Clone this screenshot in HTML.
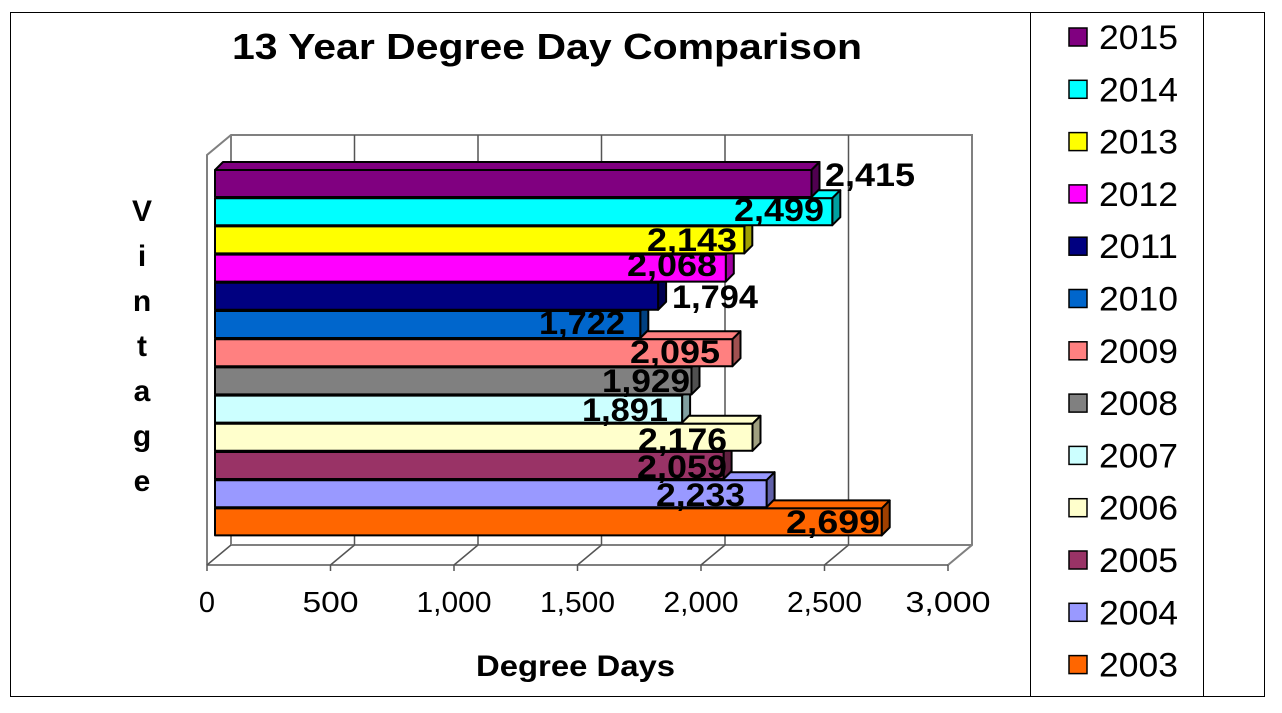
<!DOCTYPE html>
<html><head><meta charset="utf-8"><style>
body{margin:0;background:#fff}
svg{display:block;font-family:"Liberation Sans",Arial,sans-serif}
</style></head><body>
<svg width="1282" height="713" viewBox="0 0 1282 713" xmlns="http://www.w3.org/2000/svg">
<rect x="0" y="0" width="1282" height="713" fill="#fff"/>
<rect x="10.5" y="12.5" width="1254" height="684" fill="none" stroke="#000" stroke-width="1"/>
<rect x="1030.5" y="12.5" width="173" height="684" fill="none" stroke="#000" stroke-width="1"/>
<text x="232" y="59" font-size="36" font-weight="bold" textLength="630" lengthAdjust="spacingAndGlyphs">13 Year Degree Day Comparison</text>
<g font-size="30" font-weight="bold" text-anchor="middle">
<text x="142" y="221">V</text><text x="142" y="266">i</text><text x="142" y="311">n</text><text x="142" y="356">t</text><text x="142" y="401">a</text><text x="142" y="446">g</text><text x="142" y="491">e</text>
</g>
<g stroke="#808080" stroke-width="2" fill="none">
<polyline points="207,565 207,155 231,135 972,135 972,545 948,565"/>
<line x1="231" y1="135" x2="231" y2="545"/>
<line x1="231" y1="545" x2="972" y2="545"/>
</g>
<g stroke="#555" stroke-width="1.5">
<line x1="354.5" y1="135" x2="354.5" y2="545"/><line x1="478" y1="135" x2="478" y2="545"/><line x1="601.5" y1="135" x2="601.5" y2="545"/><line x1="725" y1="135" x2="725" y2="545"/><line x1="848.5" y1="135" x2="848.5" y2="545"/>
<line x1="207" y1="565" x2="948" y2="565"/>
<line x1="207" y1="565" x2="231" y2="545"/><line x1="330.5" y1="565" x2="354.5" y2="545"/><line x1="454" y1="565" x2="478" y2="545"/><line x1="577.5" y1="565" x2="601.5" y2="545"/><line x1="701" y1="565" x2="725" y2="545"/><line x1="824.5" y1="565" x2="848.5" y2="545"/>
<line x1="207" y1="565" x2="207" y2="571"/><line x1="330.5" y1="565" x2="330.5" y2="571"/><line x1="454" y1="565" x2="454" y2="571"/><line x1="577.5" y1="565" x2="577.5" y2="571"/><line x1="701" y1="565" x2="701" y2="571"/><line x1="824.5" y1="565" x2="824.5" y2="571"/><line x1="948" y1="565" x2="948" y2="571"/>
</g>
<g stroke="#000" stroke-width="2" stroke-linejoin="round">
<g fill="#FF6600"><polygon points="215,508.4 223,500.4 889.7,500.4 881.7,508.4"/><polygon points="881.7,508.4 889.7,500.4 889.7,527.4 881.7,535.4" fill="#a04000"/><rect x="215" y="508.4" width="666.7" height="27"/></g>
<g fill="#9999FF"><polygon points="215,480.2 223,472.2 774.6,472.2 766.6,480.2"/><polygon points="766.6,480.2 774.6,472.2 774.6,499.2 766.6,507.2" fill="#6060a8"/><rect x="215" y="480.2" width="551.6" height="27"/></g>
<g fill="#993366"><polygon points="215,452 223,444 731.6,444 723.6,452"/><polygon points="723.6,452 731.6,444 731.6,471 723.6,479" fill="#602040"/><rect x="215" y="452" width="508.6" height="27"/></g>
<g fill="#FFFFCC"><polygon points="215,423.8 223,415.8 760.5,415.8 752.5,423.8"/><polygon points="752.5,423.8 760.5,415.8 760.5,442.8 752.5,450.8" fill="#a0a080"/><rect x="215" y="423.8" width="537.5" height="27"/></g>
<g fill="#CCFFFF"><polygon points="215,395.6 223,387.6 690.1,387.6 682.1,395.6"/><polygon points="682.1,395.6 690.1,387.6 690.1,414.6 682.1,422.6" fill="#80a0a0"/><rect x="215" y="395.6" width="467.1" height="27"/></g>
<g fill="#808080"><polygon points="215,367.4 223,359.4 699.5,359.4 691.5,367.4"/><polygon points="691.5,367.4 699.5,359.4 699.5,386.4 691.5,394.4" fill="#505050"/><rect x="215" y="367.4" width="476.5" height="27"/></g>
<g fill="#FF8080"><polygon points="215,339.2 223,331.2 740.5,331.2 732.5,339.2"/><polygon points="732.5,339.2 740.5,331.2 740.5,358.2 732.5,366.2" fill="#a05050"/><rect x="215" y="339.2" width="517.5" height="27"/></g>
<g fill="#0066CC"><polygon points="215,311 223,303 648.3,303 640.3,311"/><polygon points="640.3,311 648.3,303 648.3,330 640.3,338" fill="#004080"/><rect x="215" y="311" width="425.3" height="27"/></g>
<g fill="#000080"><polygon points="215,282.8 223,274.8 666.1,274.8 658.1,282.8"/><polygon points="658.1,282.8 666.1,274.8 666.1,301.8 658.1,309.8" fill="#000050"/><rect x="215" y="282.8" width="443.1" height="27"/></g>
<g fill="#FF00FF"><polygon points="215,254.6 223,246.6 733.8,246.6 725.8,254.6"/><polygon points="725.8,254.6 733.8,246.6 733.8,273.6 725.8,281.6" fill="#a000a0"/><rect x="215" y="254.6" width="510.8" height="27"/></g>
<g fill="#FFFF00"><polygon points="215,226.4 223,218.4 752.3,218.4 744.3,226.4"/><polygon points="744.3,226.4 752.3,218.4 752.3,245.4 744.3,253.4" fill="#a0a000"/><rect x="215" y="226.4" width="529.3" height="27"/></g>
<g fill="#00FFFF"><polygon points="215,198.2 223,190.2 840.3,190.2 832.3,198.2"/><polygon points="832.3,198.2 840.3,190.2 840.3,217.2 832.3,225.2" fill="#00a0a0"/><rect x="215" y="198.2" width="617.3" height="27"/></g>
<g fill="#800080"><polygon points="215,170 223,162 819.5,162 811.5,170"/><polygon points="811.5,170 819.5,162 819.5,189 811.5,197" fill="#500050"/><rect x="215" y="170" width="596.5" height="27"/></g>
</g>
<g font-size="32" font-weight="bold" fill="#000">
<text x="825" y="186" textLength="90" lengthAdjust="spacingAndGlyphs">2,415</text>
<text x="734" y="221" textLength="90" lengthAdjust="spacingAndGlyphs">2,499</text>
<text x="647" y="251" textLength="90" lengthAdjust="spacingAndGlyphs">2,143</text>
<text x="627" y="276" textLength="90" lengthAdjust="spacingAndGlyphs">2,068</text>
<text x="672" y="308" textLength="86" lengthAdjust="spacingAndGlyphs">1,794</text>
<text x="539" y="334" textLength="86" lengthAdjust="spacingAndGlyphs">1,722</text>
<text x="630" y="363" textLength="90" lengthAdjust="spacingAndGlyphs">2,095</text>
<text x="602" y="392" textLength="88" lengthAdjust="spacingAndGlyphs">1,929</text>
<text x="582" y="421" textLength="86" lengthAdjust="spacingAndGlyphs">1,891</text>
<text x="638" y="451" textLength="89" lengthAdjust="spacingAndGlyphs">2,176</text>
<text x="637" y="478" textLength="90" lengthAdjust="spacingAndGlyphs">2,059</text>
<text x="656" y="506" textLength="89" lengthAdjust="spacingAndGlyphs">2,233</text>
<text x="786" y="533" textLength="94" lengthAdjust="spacingAndGlyphs">2,699</text>
</g>
<g font-size="29" text-anchor="middle">
<text x="207" y="612">0</text>
<text x="330.5" y="612" textLength="56" lengthAdjust="spacingAndGlyphs">500</text>
<text x="454" y="612" textLength="75" lengthAdjust="spacingAndGlyphs">1,000</text>
<text x="577.5" y="612" textLength="75" lengthAdjust="spacingAndGlyphs">1,500</text>
<text x="701" y="612" textLength="75" lengthAdjust="spacingAndGlyphs">2,000</text>
<text x="824.5" y="612" textLength="75" lengthAdjust="spacingAndGlyphs">2,500</text>
<text x="948" y="612" textLength="85" lengthAdjust="spacingAndGlyphs">3,000</text>
</g>
<text x="476" y="676" font-size="30" font-weight="bold" textLength="199" lengthAdjust="spacingAndGlyphs">Degree Days</text>
<g stroke="#000" stroke-width="1.5">
<rect x="1069" y="28" width="18" height="18" fill="#800080"/>
<rect x="1069" y="80.3" width="18" height="18" fill="#00FFFF"/>
<rect x="1069" y="132.6" width="18" height="18" fill="#FFFF00"/>
<rect x="1069" y="184.9" width="18" height="18" fill="#FF00FF"/>
<rect x="1069" y="237.2" width="18" height="18" fill="#000080"/>
<rect x="1069" y="289.5" width="18" height="18" fill="#0066CC"/>
<rect x="1069" y="341.8" width="18" height="18" fill="#FF8080"/>
<rect x="1069" y="394.1" width="18" height="18" fill="#808080"/>
<rect x="1069" y="446.4" width="18" height="18" fill="#CCFFFF"/>
<rect x="1069" y="498.7" width="18" height="18" fill="#FFFFCC"/>
<rect x="1069" y="551" width="18" height="18" fill="#993366"/>
<rect x="1069" y="603.3" width="18" height="18" fill="#9999FF"/>
<rect x="1069" y="655.6" width="18" height="18" fill="#FF6600"/>
</g>
<g font-size="34">
<text x="1099" y="49" textLength="79" lengthAdjust="spacingAndGlyphs">2015</text><text x="1099" y="101.3" textLength="79" lengthAdjust="spacingAndGlyphs">2014</text><text x="1099" y="153.6" textLength="79" lengthAdjust="spacingAndGlyphs">2013</text><text x="1099" y="205.9" textLength="79" lengthAdjust="spacingAndGlyphs">2012</text><text x="1099" y="258.2" textLength="79" lengthAdjust="spacingAndGlyphs">2011</text><text x="1099" y="310.5" textLength="79" lengthAdjust="spacingAndGlyphs">2010</text><text x="1099" y="362.8" textLength="79" lengthAdjust="spacingAndGlyphs">2009</text><text x="1099" y="415.1" textLength="79" lengthAdjust="spacingAndGlyphs">2008</text><text x="1099" y="467.4" textLength="79" lengthAdjust="spacingAndGlyphs">2007</text><text x="1099" y="519.7" textLength="79" lengthAdjust="spacingAndGlyphs">2006</text><text x="1099" y="572" textLength="79" lengthAdjust="spacingAndGlyphs">2005</text><text x="1099" y="624.3" textLength="79" lengthAdjust="spacingAndGlyphs">2004</text><text x="1099" y="676.6" textLength="79" lengthAdjust="spacingAndGlyphs">2003</text>
</g>
</svg>
</body></html>
